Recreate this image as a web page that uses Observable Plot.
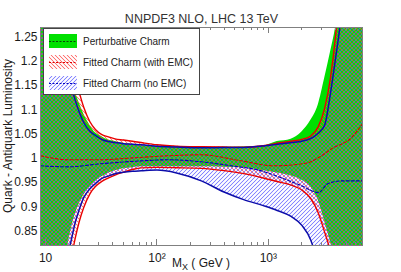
<!DOCTYPE html>
<html><head><meta charset="utf-8">
<script src="https://cdn.jsdelivr.net/npm/d3@7"></script>
<script src="https://cdn.jsdelivr.net/npm/@observablehq/plot@0.6"></script>
<style>body{margin:0;background:#fff;} svg{display:block}</style>
</head><body><div id="chart"></div>
<script>
// ---- data ----
const massGrid = [9, 11, 12.5, 14, 15.5, 17, 18.5, 20, 22, 25, 28, 32, 36, 42, 50, 60, 72, 100, 150, 250, 400, 600, 900, 1200, 1600, 2000, 2400, 2800, 3200, 3600, 4000, 4500, 5500, 7000];
// Perturbative charm band
const pcUpper = [1.8, 1.45, 1.295, 1.2398, 1.1969, 1.1631, 1.1356, 1.1145, 1.0913, 1.0679, 1.0526, 1.0445, 1.0381, 1.0348, 1.0311, 1.0282, 1.0259, 1.0248, 1.0234, 1.0217, 1.0226, 1.0232, 1.025, 1.0345, 1.0395, 1.0545, 1.078, 1.1097, 1.1646, 1.2172, 1.268, 1.35, 1.6, 2.0];
const pcLower = [0.4, 0.58, 0.684, 0.757, 0.8095, 0.8544, 0.8849, 0.9054, 0.9238, 0.9414, 0.9526, 0.9621, 0.9683, 0.9741, 0.9783, 0.9805, 0.9824, 0.9824, 0.9824, 0.9824, 0.9816, 0.9803, 0.9741, 0.9694, 0.9634, 0.9549, 0.9408, 0.9137, 0.87, 0.8284, 0.7836, 0.72, 0.6, 0.5];
// Fitted charm (with EMC)
const emcUpper = [1.9, 1.6, 1.40, 1.289, 1.2406, 1.201, 1.167, 1.137, 1.1052, 1.0754, 1.0594, 1.0487, 1.0447, 1.04, 1.0377, 1.0352, 1.0325, 1.028, 1.025, 1.0238, 1.0232, 1.0228, 1.0259, 1.031, 1.0352, 1.0391, 1.046, 1.0648, 1.1029, 1.1642, 1.2495, 1.4, 1.7, 2.0];
const emcLower = [0.3, 0.45, 0.55, 0.64, 0.746, 0.794, 0.8362, 0.8685, 0.8986, 0.9267, 0.9416, 0.9524, 0.9588, 0.9654, 0.9714, 0.9768, 0.9803, 0.9812, 0.9805, 0.9793, 0.9745, 0.9683, 0.9594, 0.952, 0.9447, 0.9346, 0.917, 0.8878, 0.8476, 0.8064, 0.74, 0.65, 0.55, 0.45];
// Fitted charm (no EMC)
const noEmcUpper = [1.8, 1.42, 1.283, 1.2302, 1.1845, 1.1484, 1.119, 1.0959, 1.0739, 1.0557, 1.0474, 1.0387, 1.035, 1.0327, 1.0302, 1.029, 1.028, 1.025, 1.0232, 1.0217, 1.0222, 1.0224, 1.0253, 1.0288, 1.0325, 1.0354, 1.0408, 1.0518, 1.0683, 1.1327, 1.2048, 1.295, 1.6, 1.9];
const noEmcLower = [0.3, 0.45, 0.56, 0.68, 0.788, 0.8309, 0.8685, 0.8936, 0.9188, 0.9373, 0.9478, 0.9584, 0.9629, 0.9683, 0.9712, 0.9731, 0.9741, 0.9756, 0.9698, 0.9534, 0.9304, 0.9147, 0.9023, 0.8923, 0.8799, 0.8615, 0.8315, 0.7774, 0.70, 0.62, 0.55, 0.5, 0.45, 0.4];
// central values (dashed)
const emcCenterMass = [9, 16, 31, 62, 125, 250, 570, 1130, 2000, 2300, 3000, 3700, 5600, 7000];
const emcCenter = [1.0052, 0.997, 0.997, 1.001, 1.0052, 1.0072, 0.9948, 0.9845, 0.9886, 0.9913, 1.0052, 1.0197, 1.0431, 1.071];
const noEmcCenterMass = [9, 16, 31, 62, 125, 250, 465, 865, 1310, 2000, 2820, 3400, 4550, 7000];
const noEmcCenter = [0.9845, 0.9824, 0.9886, 0.9938, 0.9969, 0.9928, 0.9845, 0.9741, 0.9596, 0.943, 0.9292, 0.9472, 0.9534, 0.9534];
// ticks and labels
const xMajorTicks = [10, 100, 1000];
const xMajorLabels = ["10", "10\u00B2", "10\u00B3"];
const xMinorTicks = [20,30,40,50,60,70,80,90,200,300,400,500,600,700,800,900,2000,3000,4000,5000,6000,7000];
const yTicks = [0.85, 0.9, 0.95, 1, 1.05, 1.1, 1.15, 1.2, 1.25];
const legendLabels = ["Perturbative Charm", "Fitted Charm (with EMC)", "Fitted Charm (no EMC)"];
const titleText = "NNPDF3 NLO, LHC 13 TeV";
const yLabelText = "Quark - Antiquark Luminosity";

// ---- build ----
const rows = massGrid.map((m, i) => ({m, pcLo: pcLower[i], pcHi: pcUpper[i], eLo: emcLower[i], eHi: emcUpper[i], nLo: noEmcLower[i], nHi: noEmcUpper[i]}));
const eC = emcCenterMass.map((m, i) => ({m, v: emcCenter[i]}));
const nC = noEmcCenterMass.map((m, i) => ({m, v: noEmcCenter[i]}));

const font = "'Liberation Sans', Arial, Helvetica, sans-serif";
const RED = "#e80000", BLUE = "#0c0caa", GREEN = "#00e000";
const curve = "monotone-x";

const plot = Plot.plot({
  width: 401, height: 272,
  marginLeft: 40, marginRight: 39, marginTop: 27, marginBottom: 27,
  style: {fontFamily: font, fontSize: "12px", background: "#fff", color: "#1a1a1a"},
  x: {type: "log", domain: [9, 7000], label: null},
  y: {domain: [0.82, 1.27], label: null},
  marks: [
    Plot.areaY(rows, {x: "m", y1: "pcLo", y2: "pcHi", fill: GREEN, curve, clip: true}),
    Plot.areaY(rows, {x: "m", y1: "eLo", y2: "eHi", fill: "url(#hatchRed)", curve, clip: true}),
    Plot.areaY(rows, {x: "m", y1: "nLo", y2: "nHi", fill: "url(#hatchBlu)", curve, clip: true}),
    Plot.line(rows, {x: "m", y: "eHi", stroke: RED, strokeWidth: 1.4, curve, clip: true}),
    Plot.line(rows, {x: "m", y: "eLo", stroke: RED, strokeWidth: 1.4, curve, clip: true}),
    Plot.line(rows, {x: "m", y: "nHi", stroke: BLUE, strokeWidth: 1.5, curve, clip: true}),
    Plot.line(rows, {x: "m", y: "nLo", stroke: BLUE, strokeWidth: 1.5, curve, clip: true}),
    Plot.line(eC, {x: "m", y: "v", stroke: "#d40000", strokeWidth: 1.1, strokeDasharray: "3,2", curve, clip: true}),
    Plot.line(nC, {x: "m", y: "v", stroke: "#0000b0", strokeWidth: 1.1, strokeDasharray: "3,2", curve, clip: true}),
    Plot.frame({stroke: "#808080"}),
    Plot.axisX({ticks: xMajorTicks, tickSize: 0, tickPadding: 8, tickFormat: d => xMajorLabels[xMajorTicks.indexOf(d)], label: null, fill: "#1a1a1a"}),
    Plot.axisY({ticks: yTicks, tickSize: 0, tickPadding: 3, tickFormat: d => String(+d.toFixed(2)), label: null, fill: "#1a1a1a"}),
    Plot.text([titleText], {text: d => d, frameAnchor: "top", dy: -13, fontSize: 12.5, fill: "#333"})
  ]
});

const svg = d3.select(plot);
const defs = svg.insert("defs", ":first-child");
// pixel-aligned 4x4 hatch tiles made of thin filled diagonal bands (half-width h)
function hatch(id, color, up) {
  const h = 0.42, s = 4;
  const p = defs.append("pattern").attr("id", id).attr("patternUnits", "userSpaceOnUse")
    .attr("width", s).attr("height", s);
  const d = up
    ? `M${s-h},0L${s},0L${s},${h}L${h},${s}L0,${s}L0,${s-h}Z M0,0L${h},0L0,${h}Z M${s},${s-h}L${s},${s}L${s-h},${s}Z`
    : `M0,0L${h},0L${s},${s-h}L${s},${s}L${s-h},${s}L0,${h}Z M${s-h},0L${s},0L${s},${h}Z M0,${s-h}L${h},${s}L0,${s}Z`;
  p.append("path").attr("d", d).style("fill", color).style("stroke", "none");
}
hatch("hatchRed", "rgb(255,60,60)", false);
hatch("hatchBlu", "rgb(85,85,255)", true);

// inward ticks on bottom and top using the plot's x scale
const xs = plot.scale("x");
const yTop = 27, yBot = 272 - 27;
const tg = svg.append("g").attr("stroke", "#808080").attr("stroke-width", 1);
for (const t of xMinorTicks) {
  const x = Math.round(xs.apply(t)) + 0.5;
  tg.append("line").attr("x1", x).attr("x2", x).attr("y1", yBot).attr("y2", yBot - 3);
  tg.append("line").attr("x1", x).attr("x2", x).attr("y1", yTop).attr("y2", yTop + 3);
}
for (const t of xMajorTicks) {
  const x = Math.round(xs.apply(t)) + 0.5;
  tg.append("line").attr("x1", x).attr("x2", x).attr("y1", yBot).attr("y2", yBot - 6);
  tg.append("line").attr("x1", x).attr("x2", x).attr("y1", yTop).attr("y2", yTop + 6);
}

// axis titles
svg.append("text").attr("transform", "translate(12,136) rotate(-90)").attr("text-anchor", "middle")
  .attr("font-family", font).attr("font-size", 12).attr("fill", "#1a1a1a").text(yLabelText);
const xl = svg.append("text").attr("x", 201).attr("y", 267).attr("text-anchor", "middle")
  .attr("font-family", font).attr("font-size", 12).attr("fill", "#1a1a1a");
xl.append("tspan").text("M");
xl.append("tspan").attr("dy", 3).attr("font-size", 9).text("X");
xl.append("tspan").attr("dy", -3).text(" ( GeV )");

// legend
const lg = svg.append("g").attr("font-family", font).attr("font-size", 10).attr("text-anchor", "start");
lg.append("rect").attr("x", 43.5).attr("y", 28.5).attr("width", 156).attr("height", 66).attr("fill", "#fff").attr("stroke", "#444");
const rowsY = [41, 62, 83];
const swFill = [GREEN, "url(#hatchRed)", "url(#hatchBlu)"];
const swLine = ["#0a400a", "#e00000", "#0000c0"];
rowsY.forEach((cy, i) => {
  lg.append("rect").attr("x", 49).attr("y", cy - 7).attr("width", 28).attr("height", 14).attr("fill", swFill[i]);
  lg.append("line").attr("x1", 49).attr("x2", 77).attr("y1", cy + 0.5).attr("y2", cy + 0.5)
    .attr("stroke", swLine[i]).attr("stroke-width", 1).attr("stroke-dasharray", "2,1.5");
  lg.append("text").attr("x", 83).attr("y", cy).attr("dy", "0.35em").attr("text-anchor", "start").attr("fill", "#222").text(legendLabels[i]);
});

document.getElementById("chart").appendChild(plot);
</script>
</body></html>
